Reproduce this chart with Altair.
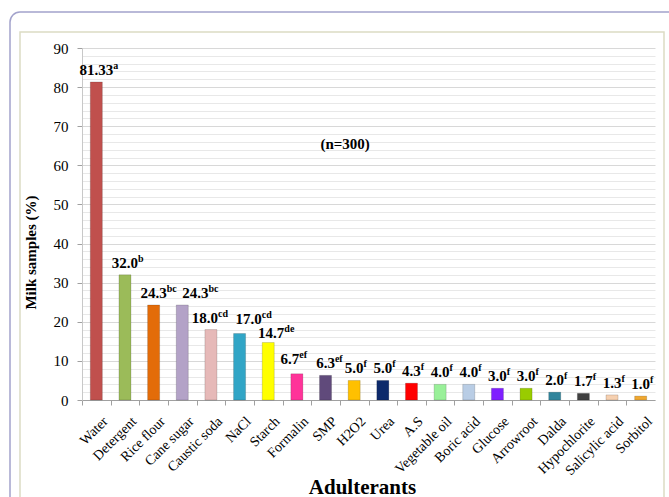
import altair as alt
import pandas as pd

categories = ["Water", "Detergent", "Rice flour", "Cane sugar", "Caustic soda", "NaCl",
              "Starch", "Formalin", "SMP", "H2O2", "Urea", "A.S", "Vegetable oil",
              "Boric acid", "Glucose", "Arrowroot", "Dalda", "Hypochlorite",
              "Salicylic acid", "Sorbitol"]
values = [81.33, 32.0, 24.3, 24.3, 18.0, 17.0, 14.7, 6.7, 6.3, 5.0, 5.0, 4.3, 4.0, 4.0,
          3.0, 3.0, 2.0, 1.7, 1.3, 1.0]
value_labels = ["81.33", "32.0", "24.3", "24.3", "18.0", "17.0", "14.7", "6.7", "6.3",
                "5.0", "5.0", "4.3", "4.0", "4.0", "3.0", "3.0", "2.0", "1.7", "1.3", "1.0"]
letters = ["a", "b", "bc", "bc", "cd", "cd", "de", "ef", "ef", "f", "f", "f", "f", "f",
           "f", "f", "f", "f", "f", "f"]
colors = ["#c0504d", "#9bbb59", "#e36c09", "#b3a2c7", "#e6b9b8", "#31a5c6", "#ffff00",
          "#ff3399", "#604a7b", "#ffc000", "#0d2a6b", "#ff0000", "#99f099", "#b9cde5",
          "#7f1fff", "#99cc00", "#31859c", "#404040", "#f6d0b0", "#f0a830"]

df = pd.DataFrame({
    "cat": categories,
    "val": values,
    "lab": value_labels,
    "sup": letters,
    "col": colors,
})

FONT = "Liberation Serif"
W, H = 573, 352
STEP = W / len(categories)
LFS = 15

xenc = alt.X("cat:N", sort=categories,
             scale=alt.Scale(paddingInner=0.58, paddingOuter=0.29),
             axis=alt.Axis(title="Adulterants", labelAngle=-45, labelFont=FONT,
                           labelFontSize=14, labelColor="#000", labelPadding=9,
                           tickOffset=-STEP / 2, labelOffset=STEP / 2 + 4, tickSize=5,
                           tickColor="#a0a0a0", domainColor="#a0a0a0",
                           titleFont=FONT, titleFontSize=21, titleFontWeight="bold",
                           titleColor="#000", titleY=93, titleX=280,
                           titleBaseline="alphabetic"))
yenc = alt.Y("val:Q",
             scale=alt.Scale(domain=[0, 90], nice=False),
             axis=alt.Axis(title="Milk samples (%)", values=list(range(0, 91, 2)),
                           tickCount=200, format="d",
                           labelExpr="datum.value % 10 === 0 ? datum.label : ''",
                           labelOverlap=False,
                           labelFont=FONT, labelFontSize=15, labelColor="#000",
                           labelPadding=9, tickSize=5,
                           tickColor={"condition": {"test": "datum.value % 10 === 0",
                                                    "value": "#a0a0a0"},
                                      "value": "rgba(0,0,0,0)"},
                           gridColor={"condition": {"test": "datum.value % 10 === 0",
                                                    "value": "#d8d8d8"},
                                      "value": "#e8e8e8"},
                           domainColor="#c8c8c8",
                           titleFont=FONT, titleFontSize=15, titleFontWeight="bold",
                           titleColor="#000", titleX=-44, titleY=204))

frame_df = pd.DataFrame({"k": [0]})
outer = alt.Chart(frame_df).mark_rect(filled=False, stroke="#a3a3cc", strokeWidth=1.5,
                                      cornerRadius=10).encode(
    x=alt.value(-72), x2=alt.value(W + 40), y=alt.value(-36), y2=alt.value(H + 120))
inner = alt.Chart(frame_df).mark_rect(filled=False, stroke="#dcdcc4", strokeWidth=1.5).encode(
    x=alt.value(-62), x2=alt.value(W + 9), y=alt.value(-16), y2=alt.value(H + 120))

base = alt.Chart(df)
bars = base.mark_bar(stroke="#000", strokeOpacity=0.25, strokeWidth=0.6).encode(
    x=xenc, y=yenc, color=alt.Color("col:N", scale=None))

# label nudges (dx, dy) as hand-placed in the original figure
nudges = {"Cane sugar": (13, -7), "NaCl": (9, -10), "Caustic soda": (-6, -7),
          "Formalin": (-7, -10), "Starch": (3, -5)}
groups = [("(" + " || ".join(f"datum.cat === '{c}'" for c in nudges) + ") === false", (0, -7))]
groups += [(f"datum.cat === '{c}'", d) for c, d in nudges.items()]

label_layers = []
for test, (sx, sy) in groups:
    sub = base.transform_filter(test)
    label_layers.append(
        sub.mark_text(font=FONT, fontSize=LFS, fontWeight="bold", color="#000",
                      baseline="alphabetic", dx=sx, dy=sy).encode(
            x=alt.X("cat:N", sort=categories), y="val:Q", text="lab:N"))
    for n, em in [(5, 2.25), (4, 1.75), (3, 1.25)]:
        label_layers.append(
            sub.transform_filter(f"length(datum.lab) === {n}").mark_text(
                font=FONT, fontSize=10, fontWeight="bold", color="#000", align="left",
                baseline="alphabetic", dx=sx + LFS * em / 2, dy=sy - 6).encode(
                x=alt.X("cat:N", sort=categories), y="val:Q", text="sup:N"))

note = alt.Chart(frame_df).mark_text(font=FONT, fontSize=15, fontWeight="bold",
                                     color="#000", dx=-9).encode(
    x=alt.datum("H2O2"), y=alt.datum(65.5), text=alt.value("(n=300)"))

chart = alt.layer(outer, inner, bars, *label_layers, note).properties(
    width=W, height=H,
    autosize=alt.AutoSizeParams(type="none"),
    padding={"left": 82, "top": 48, "right": 14, "bottom": 97},
    background="white",
).configure_view(stroke=None)

chart.save("out.html", embed_options={"renderer": "svg", "actions": False})
